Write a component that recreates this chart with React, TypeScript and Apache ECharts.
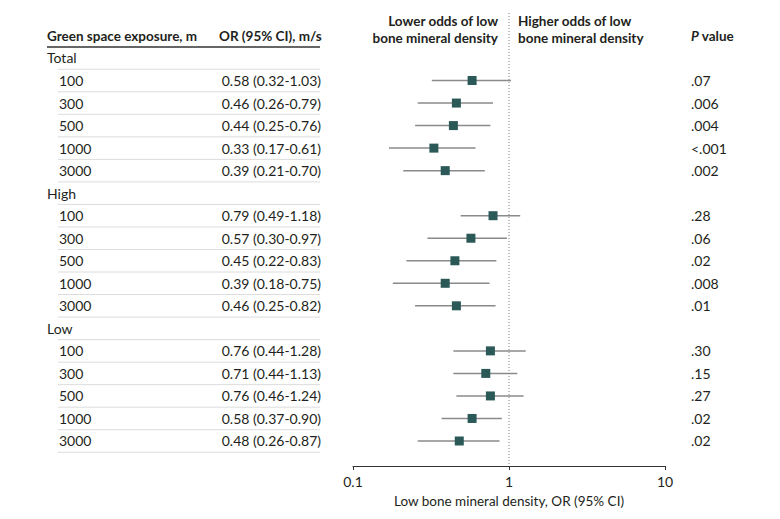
import React, { useEffect, useRef } from "react";
import * as echarts from "echarts";

const groups = ["Total", "High", "Low"];
const distances = ["100", "300", "500", "1000", "3000"];
const orValues = [
  [0.58, 0.46, 0.44, 0.33, 0.39],
  [0.79, 0.57, 0.45, 0.39, 0.46],
  [0.76, 0.71, 0.76, 0.58, 0.48],
];
const ciLow = [
  [0.32, 0.26, 0.25, 0.17, 0.21],
  [0.49, 0.3, 0.22, 0.18, 0.25],
  [0.44, 0.44, 0.46, 0.37, 0.26],
];
const ciHigh = [
  [1.03, 0.79, 0.76, 0.61, 0.7],
  [1.18, 0.97, 0.83, 0.75, 0.82],
  [1.28, 1.13, 1.24, 0.9, 0.87],
];
const pValues = [
  [".07", ".006", ".004", "<.001", ".002"],
  [".28", ".06", ".02", ".008", ".01"],
  [".30", ".15", ".27", ".02", ".02"],
];
const xTicks = [0.1, 1, 10];

const FONT = "Lato";
const TEXT = "#231f20";
const MARK = "#2a5958";

function fmt(v: number) {
  return v.toFixed(2);
}

export default function App() {
  const ref = useRef<HTMLDivElement>(null);
  useEffect(() => {
    if (!ref.current) return;
    const chart = echarts.init(ref.current, undefined, { renderer: "svg" });

    type Row = { idx: number; kind: "head" | "data"; label: string; orText?: string; p?: string; or?: number; lo?: number; hi?: number };
    const rows: Row[] = [];
    let idx = 0;
    groups.forEach((g, gi) => {
      rows.push({ idx: idx++, kind: "head", label: g });
      distances.forEach((d, di) => {
        rows.push({
          idx: idx++,
          kind: "data",
          label: d,
          or: orValues[gi][di],
          lo: ciLow[gi][di],
          hi: ciHigh[gi][di],
          orText: `${fmt(orValues[gi][di])} (${fmt(ciLow[gi][di])}-${fmt(ciHigh[gi][di])})`,
          p: pValues[gi][di],
        });
      });
    });
    const dataRows = rows.filter((r) => r.kind === "data");

    const yMin = -2;
    const yMax = 18.11;
    const top = 12.94;
    const bottom = 53;

    const option: any = {
      animation: false,
      textStyle: { fontFamily: FONT },
      grid: [
        { left: 353, width: 312, top, bottom, containLabel: false },
        { left: 0, right: 0, top, bottom, containLabel: false },
      ],
      xAxis: [
        {
          type: "log",
          gridIndex: 0,
          logBase: 10,
          min: 0.1,
          max: 10,
          position: "bottom",
          axisLine: { show: true, onZero: false, lineStyle: { color: "#333", width: 1 } },
          axisTick: { show: true, length: 4, lineStyle: { color: "#333" } },
          minorTick: { show: false },
          splitLine: { show: false },
          axisLabel: {
            fontFamily: FONT,
            fontSize: 14,
            color: TEXT,
            margin: 8,
            formatter: (v: number) => String(v),
            customValues: xTicks,
          },
          name: "Low bone mineral density, OR (95% CI)",
          nameLocation: "middle",
          nameGap: 28,
          nameTextStyle: { fontFamily: FONT, fontSize: 13.5, color: TEXT },
        },
        { type: "value", gridIndex: 1, min: 0, max: 780, show: false },
      ],
      yAxis: [
        { type: "value", gridIndex: 0, inverse: true, min: yMin, max: yMax, show: false },
        { type: "value", gridIndex: 1, inverse: true, min: yMin, max: yMax, show: false },
      ],
      graphic: [
        {
          type: "text",
          left: 47,
          top: 29,
          style: { text: "Green space exposure, m", font: `bold 13.5px ${FONT}`, fill: TEXT },
        },
        {
          type: "text",
          left: 219,
          top: 29,
          style: { text: "OR (95% CI), m/s", font: `bold 13.5px ${FONT}`, fill: TEXT },
        },
        {
          type: "line",
          shape: { x1: 47, y1: 47, x2: 320, y2: 47 },
          style: { stroke: "#333", lineWidth: 1.5 },
        },
        {
          type: "text",
          x: 498,
          y: 12,
          style: {
            text: "Lower odds of low\nbone mineral density",
            font: `bold 13.5px ${FONT}`,
            fill: TEXT,
            align: "right",
            lineHeight: 17,
          },
        },
        {
          type: "text",
          x: 518,
          y: 12,
          style: {
            text: "Higher odds of low\nbone mineral density",
            font: `bold 13.5px ${FONT}`,
            fill: TEXT,
            align: "left",
            lineHeight: 17,
          },
        },
        {
          type: "text",
          x: 691,
          y: 29,
          style: {
            text: "{i|P} value",
            font: `bold 13.5px ${FONT}`,
            fill: TEXT,
            rich: { i: { fontStyle: "italic", fontWeight: "bold", fontSize: 13.5, fontFamily: FONT, fill: TEXT } },
          },
        },
      ],
      series: [
        {
          type: "custom",
          xAxisIndex: 1,
          yAxisIndex: 1,
          silent: true,
          clip: false,
          data: rows.map((r) => [0, r.idx]),
          renderItem: (params: any, api: any) => {
            const r = rows[params.dataIndex];
            const c = api.coord([0, r.idx]);
            const y = c[1];
            const step = api.size([0, 1])[1];
            const children: any[] = [];
            const isHead = r.kind === "head";
            children.push({
              type: "text",
              x: isHead ? 47 : 59,
              y,
              style: { text: r.label, font: `14px ${FONT}`, fill: TEXT, verticalAlign: "middle" },
            });
            if (!isHead) {
              children.push({
                type: "text",
                x: 321,
                y,
                style: { text: r.orText, font: `14px ${FONT}`, fill: TEXT, align: "right", verticalAlign: "middle" },
              });
              children.push({
                type: "text",
                x: 691,
                y,
                style: { text: r.p, font: `14px ${FONT}`, fill: TEXT, verticalAlign: "middle" },
              });
            }
            children.push({
              type: "line",
              shape: { x1: 58, y1: y + step / 2, x2: 320, y2: y + step / 2 },
              style: { stroke: "#dcdcdc", lineWidth: 1 },
            });
            return { type: "group", children };
          },
        },
        {
          type: "custom",
          xAxisIndex: 0,
          yAxisIndex: 0,
          silent: true,
          data: dataRows.map((r) => [r.lo, r.hi, r.idx]),
          renderItem: (params: any, api: any) => {
            const a = api.coord([api.value(0), api.value(2)]);
            const b = api.coord([api.value(1), api.value(2)]);
            return {
              type: "line",
              shape: { x1: a[0], y1: a[1], x2: b[0], y2: b[1] },
              style: { stroke: "#8a8a8a", lineWidth: 1.5 },
            };
          },
          z: 2,
        },
        {
          type: "line",
          xAxisIndex: 0,
          yAxisIndex: 0,
          silent: true,
          symbol: "none",
          data: [
            [1, yMin],
            [1, yMax],
          ],
          lineStyle: { color: "#777", width: 1, type: [1, 2] },
          z: 1,
        },
        {
          type: "scatter",
          xAxisIndex: 0,
          yAxisIndex: 0,
          silent: true,
          symbol: "rect",
          symbolSize: 9,
          itemStyle: { color: MARK, opacity: 1 },
          data: dataRows.map((r) => [r.or, r.idx]),
          z: 3,
        },
      ],
    };
    chart.setOption(option);
    return () => chart.dispose();
  }, []);
  return <div ref={ref} style={{ width: 780, height: 519, position: "absolute", left: 0, top: 0, background: "#fff" }} />;
}
